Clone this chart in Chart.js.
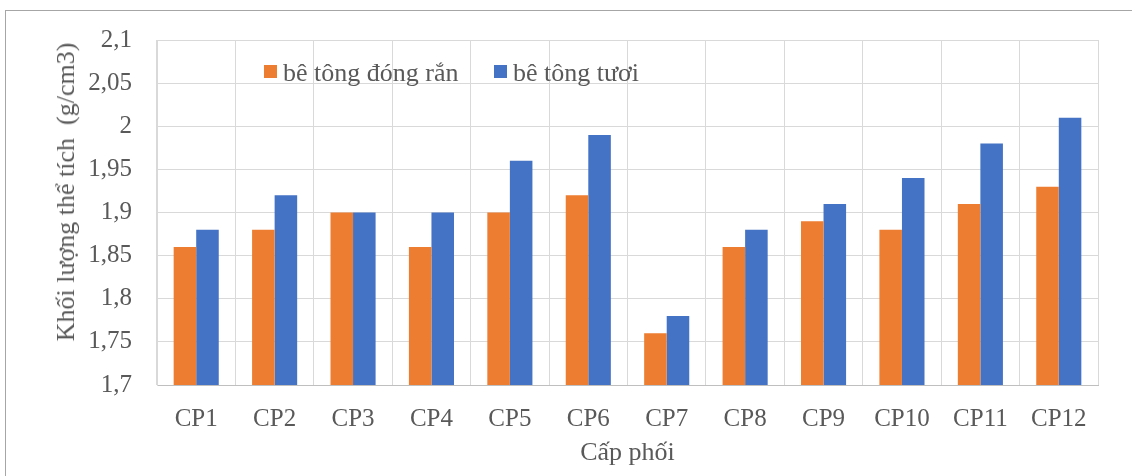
<!DOCTYPE html>
<html>
<head>
<meta charset="utf-8">
<script src="https://cdn.jsdelivr.net/npm/chart.js@4"></script>
<style>
  html, body { margin: 0; padding: 0; background: #fff; }
  body { width: 1132px; height: 476px; position: relative; overflow: hidden; }
  #frame { position: absolute; left: 5px; top: 10px; width: 1140px; height: 480px; border: 1px solid #a6a6a6; box-sizing: border-box; }
  #chart { position: absolute; left: 0; top: 0; }
  .leg { position: absolute; font-family: 'Liberation Serif', serif; font-size: 26px; color: #595959; white-space: nowrap; line-height: 26px; }
  .leg i { position: absolute; left: -19px; top: 5px; width: 13px; height: 13px; }
  #ytitle { position: absolute; left: 66px; top: 192px; transform: translate(-50%, -50%) rotate(-90deg);
    font-family: 'Liberation Serif', serif; font-size: 26px; color: #595959; white-space: pre; }
</style>
</head>
<body>
<div id="frame"></div>
<canvas id="chart" width="1132" height="476"></canvas>
<div id="legend"></div>
<div id="ytitle"></div>
<script>
// dữ liệu
const categories = ['CP1', 'CP2', 'CP3', 'CP4', 'CP5', 'CP6', 'CP7', 'CP8', 'CP9', 'CP10', 'CP11', 'CP12'];
const dongRan = [1.86, 1.88, 1.90, 1.86, 1.90, 1.92, 1.76, 1.86, 1.89, 1.88, 1.91, 1.93];
const tuoi = [1.88, 1.92, 1.90, 1.90, 1.96, 1.99, 1.78, 1.88, 1.91, 1.94, 1.98, 2.01];
const seriesNames = ['bê tông đóng rắn', 'bê tông tươi'];
const yMin = 1.7, yMax = 2.1, yStep = 0.05;
const xTitle = 'Cấp phối';
const yTitle = 'Khối lượng thể tích  (g/cm3)';

const colors = ['#ED7D31', '#4472C4'];
const gray = '#595959';
const fontFam = '"Liberation Serif", "Times New Roman", serif';

// legend + y title (html)
const legendPos = [264, 494];
const legend = document.getElementById('legend');
seriesNames.forEach((name, i) => {
    const d = document.createElement('div');
    d.className = 'leg';
    d.style.left = (legendPos[i] + 19) + 'px';
    d.style.top = '60px';
    d.innerHTML = '<i style="background:' + colors[i] + '"></i>' + name;
    legend.appendChild(d);
});
document.getElementById('ytitle').textContent = yTitle;

const ctx = document.getElementById('chart').getContext('2d');
new Chart(ctx, {
    type: 'bar',
    data: {
        labels: categories,
        datasets: [
            { label: seriesNames[0], data: dongRan, backgroundColor: colors[0] },
            { label: seriesNames[1], data: tuoi, backgroundColor: colors[1] }
        ]
    },
    options: {
        responsive: false,
        animation: false,
        layout: { padding: { left: 0, top: 34, right: 34, bottom: 0 } },
        datasets: { bar: { categoryPercentage: 0.575, barPercentage: 1 } },
        plugins: { legend: { display: false }, tooltip: { enabled: false } },
        scales: {
            x: {
                afterFit: s => { s.height = 91; },
                grid: { color: '#d9d9d9', lineWidth: 1, drawTicks: false, offset: true },
                border: { color: '#bfbfbf', width: 1 },
                ticks: { color: gray, font: { family: fontFam, size: 25 }, padding: 19 },
                title: { display: true, text: xTitle, color: gray, font: { family: fontFam, size: 26 }, padding: { top: 0, bottom: 7 } }
            },
            y: {
                min: yMin,
                max: yMax,
                afterFit: s => { s.width = 157; },
                grid: { color: '#d9d9d9', lineWidth: 1, drawTicks: false },
                border: { color: '#d9d9d9', width: 1 },
                ticks: {
                    stepSize: yStep,
                    color: gray,
                    font: { family: fontFam, size: 25 },
                    padding: 25,
                    callback: v => String(Number(v.toFixed(2))).replace('.', ',')
                }
            }
        }
    }
});
</script>
</body>
</html>
